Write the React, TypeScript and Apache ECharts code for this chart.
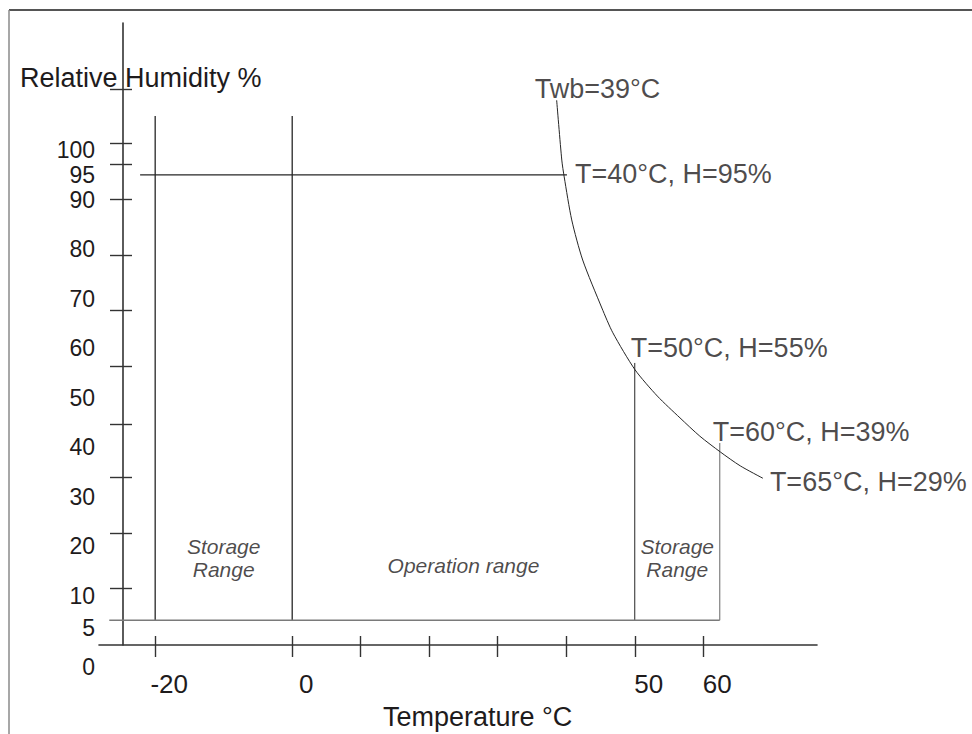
import React, { useEffect, useRef } from 'react';
import * as echarts from 'echarts';

// ---- axis ranges (°C / %RH) ----
const tempMin = -28.2;
const tempMax = 76.6;
const rhMin = 0;
const rhMax = 125.7;

// ---- ticks & tick labels ----
const xTickValues = [-20, 0, 10, 20, 30, 40, 50, 60];
const xLabelValues = [-20, 0, 50, 60];
const yTickValues = [11.5, 22.6, 33.9, 44.6, 56.4, 67.7, 78.8, 90.1, 97.2, 101.4, 112.3];
const yLabelValues = [0, 10, 20, 30, 40, 50, 60, 70, 80, 90, 100];
const yExtraLabelValues = [5, 95];

// ---- wet-bulb Twb = 39°C curve ----
const twbTemps = [38.6, 39.35, 39.7, 40.8, 42.4, 45.2, 46.8, 50.05, 53.3, 56.6, 59.5, 62.5, 65.4, 68.7];
const twbRH = [110.1, 98.0, 94.6, 85.9, 77.8, 68.1, 63.1, 55.6, 50.3, 45.9, 42.2, 39.0, 36.2, 33.7];

// ---- range boundaries ----
const boundaryTemps = [-20, 0, 50, 62.4];
const boundaryTopRH = [106.9, 106.9, 57.0, 40.8];
const floorRH = 5;
const floorSpan = [-26.7, 62.4];
const ceilingRH = 95;
const ceilingSpan = [-22.2, 40.1];

// ---- texts ----
const pointLabels = ['Twb=39°C', 'T=40°C, H=95%', 'T=50°C, H=55%', 'T=60°C, H=39%', 'T=65°C, H=29%'];
const rangeNames = ['Storage\nRange', 'Operation range', 'Storage\nRange'];
const xAxisTitle = 'Temperature °C';
const yAxisTitle = 'Relative Humidity %';

const FONT = "'Liberation Sans', Arial, Helvetica, sans-serif";
const TXT = '#1e1b1c';
const DARK = '#262626';

export default function App() {
  const ref = useRef<HTMLDivElement>(null);

  useEffect(() => {
    if (!ref.current) return;
    const chart = echarts.init(ref.current, undefined, { renderer: 'svg' });

    const n = twbTemps.length;
    const anchors: number[][] = [
      [twbTemps[0], twbRH[0]],
      [ceilingSpan[1], ceilingRH],
      [boundaryTemps[2], boundaryTopRH[2]],
      [boundaryTemps[3], boundaryTopRH[3]],
      [twbTemps[n - 1], twbRH[n - 1]],
    ];
    const anchorOffsets = [
      [-22, -11],
      [8, -1],
      [-4, -15],
      [-7, -11],
      [7, 4],
    ];

    const boundarySeries = boundaryTemps.map((t, i) => ({
      type: 'line',
      silent: true,
      showSymbol: false,
      data: [
        [t, floorRH],
        [t, boundaryTopRH[i]],
      ],
      lineStyle: { color: i === 3 ? '#8a8a8a' : DARK, width: i === 2 ? 1 : 1.3 },
      z: 3,
    }));

    const rangeLabelData = rangeNames.map((name, i) => ({
      value: [(boundaryTemps[i] + boundaryTemps[i + 1]) / 2, 17.5],
      name,
      label: { offset: [0, i === 1 ? 7 : 0] },
    }));

    const yRich = { fontSize: 23, fontFamily: FONT, color: TXT, lineHeight: 19 };
    const yFormatter = (v: number) => (v === 0 ? `{z|${v}}` : v === 5 ? `{f|${v}}` : `{a|${v}}`);
    const yRichSet = {
      a: { ...yRich },
      f: { ...yRich, padding: [15, 0, 0, 0] },
      z: { ...yRich, padding: [44, 0, 0, 0] },
    };
    const tickStyle = { color: '#333', width: 1.4 };

    const option: any = {
      animation: false,
      backgroundColor: '#ffffff',
      grid: { left: 99, right: 155, top: 23, bottom: 89, containLabel: false },
      xAxis: [
        {
          type: 'value',
          min: tempMin,
          max: tempMax,
          position: 'bottom',
          axisLine: { show: true, onZero: false, lineStyle: { color: '#333', width: 1.6 } },
          axisTick: { show: true, customValues: xTickValues, length: 12, lineStyle: tickStyle },
          axisLabel: {
            show: true,
            hideOverlap: false,
            showMinLabel: true,
            showMaxLabel: true,
            customValues: xLabelValues,
            margin: 26,
            formatter: (v: number) => `{a|${v}}`,
            rich: { a: { fontSize: 26, fontFamily: FONT, color: TXT, padding: [0, 0, 0, 28] } },
          },
          splitLine: { show: false },
        },
        {
          type: 'value',
          min: tempMin,
          max: tempMax,
          position: 'bottom',
          axisLine: { show: false, onZero: false },
          axisTick: { show: true, inside: true, customValues: xTickValues, length: 9, lineStyle: tickStyle },
          axisLabel: { show: false },
          splitLine: { show: false },
        },
      ],
      yAxis: [
        {
          type: 'value',
          min: rhMin,
          max: rhMax,
          position: 'left',
          offset: -24,
          axisLine: { show: true, onZero: false, lineStyle: { color: '#333', width: 1.6 } },
          axisTick: { show: true, customValues: yTickValues, length: 13, lineStyle: tickStyle },
          axisLabel: {
            show: true,
            hideOverlap: false,
            showMinLabel: true,
            showMaxLabel: true,
            customValues: yLabelValues,
            margin: 28,
            formatter: yFormatter,
            rich: yRichSet,
          },
          splitLine: { show: false },
        },
        {
          type: 'value',
          min: rhMin,
          max: rhMax,
          position: 'left',
          offset: -24,
          axisLine: { show: false, onZero: false },
          axisTick: { show: true, inside: true, customValues: yTickValues, length: 9, lineStyle: tickStyle },
          axisLabel: {
            show: true,
            inside: false,
            hideOverlap: false,
            showMinLabel: true,
            showMaxLabel: true,
            customValues: yExtraLabelValues,
            margin: 28,
            formatter: yFormatter,
            rich: yRichSet,
          },
          splitLine: { show: false },
        },
      ],
      series: [
        {
          type: 'line',
          silent: true,
          showSymbol: false,
          smooth: 0.25,
          data: twbTemps.map((t, i) => [t, twbRH[i]]),
          lineStyle: { color: DARK, width: 1 },
          z: 4,
        },
        ...boundarySeries,
        {
          type: 'line',
          silent: true,
          showSymbol: false,
          data: [
            [floorSpan[0], floorRH],
            [floorSpan[1], floorRH],
          ],
          lineStyle: { color: '#7a7a7a', width: 1.3 },
          z: 3,
        },
        {
          type: 'line',
          silent: true,
          showSymbol: false,
          data: [
            [ceilingSpan[0], ceilingRH],
            [ceilingSpan[1], ceilingRH],
          ],
          lineStyle: { color: DARK, width: 1.3 },
          z: 3,
        },
        {
          type: 'scatter',
          silent: true,
          symbolSize: 0,
          data: anchors.map((a, i) => ({
            value: a,
            name: pointLabels[i],
            label: { offset: anchorOffsets[i] },
          })),
          label: {
            show: true,
            position: 'right',
            distance: 0,
            align: 'left',
            verticalAlign: 'middle',
            formatter: (p: any) => p.name,
            fontSize: 27,
            fontFamily: FONT,
            color: TXT,
            textBorderWidth: 0,
          },
          z: 5,
        },
        {
          type: 'scatter',
          silent: true,
          symbolSize: 0,
          data: rangeLabelData,
          label: {
            show: true,
            position: 'inside',
            align: 'center',
            verticalAlign: 'middle',
            formatter: (p: any) => p.name,
            fontSize: 21,
            fontStyle: 'italic',
            lineHeight: 23,
            fontFamily: FONT,
            color: TXT,
            textBorderWidth: 0,
          },
          z: 5,
        },
      ],
      graphic: [
        { type: 'line', shape: { x1: 9, y1: 10, x2: 972, y2: 10 }, style: { stroke: '#555', lineWidth: 2 }, silent: true },
        { type: 'line', shape: { x1: 9, y1: 10, x2: 9, y2: 734 }, style: { stroke: '#8a8a8a', lineWidth: 1.5 }, silent: true },
        {
          type: 'text',
          left: 20,
          top: 64,
          style: { text: yAxisTitle, fontSize: 27, fontFamily: FONT, fill: TXT },
          silent: true,
        },
        {
          type: 'text',
          left: 383,
          top: 703,
          style: { text: xAxisTitle, fontSize: 27, fontFamily: FONT, fill: TXT },
          silent: true,
        },
      ],
    };

    chart.setOption(option);
    return () => chart.dispose();
  }, []);

  return (
    <div
      ref={ref}
      style={{ position: 'fixed', left: 0, top: 0, width: 972, height: 734, background: '#fff' }}
    />
  );
}
